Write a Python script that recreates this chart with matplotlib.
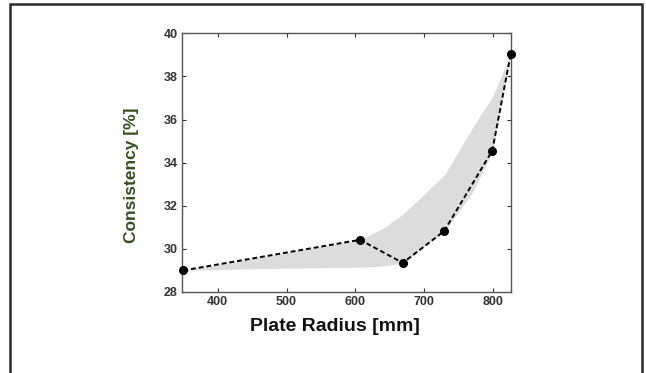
import matplotlib.pyplot as plt
from matplotlib.patches import Rectangle

# measured points (plate radius in mm, consistency in %)
radius = [350, 607, 669, 729, 799, 826]
consistency = [29.0, 30.42, 29.35, 30.82, 34.55, 39.05]

# shaded band: upper and lower edges
band_x = [350, 450, 607, 640, 669, 730, 770, 800, 826]
band_upper = [29.0, 29.55, 30.42, 30.95, 31.6, 33.45, 35.6, 37.1, 39.05]
band_lower = [29.0, 29.08, 29.15, 29.2, 29.35, 30.82, 32.6, 34.55, 39.05]

xticks = [400, 500, 600, 700, 800]
yticks = [28, 30, 32, 34, 36, 38, 40]

plt.rcParams['font.family'] = ['Liberation Sans', 'DejaVu Sans']

fig = plt.figure(figsize=(6.46, 3.73), dpi=100)
ax = fig.add_axes([0.2817, 0.2172, 0.509, 0.6935])

ax.fill_between(band_x, band_lower, band_upper, color='#dcdcdc', linewidth=0)
ax.plot(radius, consistency, '--', color='black', linewidth=1.4, dashes=(2.5, 1.5),
        marker='o', markersize=5.5, clip_on=False, zorder=5)

ax.set_xlim(348, 826)
ax.set_ylim(28, 40)
ax.set_xticks(xticks)
ax.set_yticks(yticks)
ax.tick_params(direction='in', top=True, right=True, length=3, width=0.8,
               labelsize=9, colors='#333333', pad=3)
for lab in ax.get_xticklabels() + ax.get_yticklabels():
    lab.set_fontweight('bold')
for s in ax.spines.values():
    s.set_color('#555555')
    s.set_linewidth(1.0)

ax.set_xlabel('Plate Radius [mm]', fontsize=14, color='#111111', fontweight='bold')
ax.set_ylabel('Consistency [%]', fontsize=12.5, color='#34501f', fontweight='bold')
ax.xaxis.set_label_coords(0.465, -0.10)
ax.yaxis.set_label_coords(-0.13, 0.45)

# outer frame around the figure
fig.patches.append(Rectangle((10 / 646, -0.05), 632 / 646, 1 - 3.5 / 373 + 0.05,
                             transform=fig.transFigure, fill=False,
                             edgecolor='#2a2a2a', linewidth=1.8))

fig.savefig('out.png', dpi=100)
